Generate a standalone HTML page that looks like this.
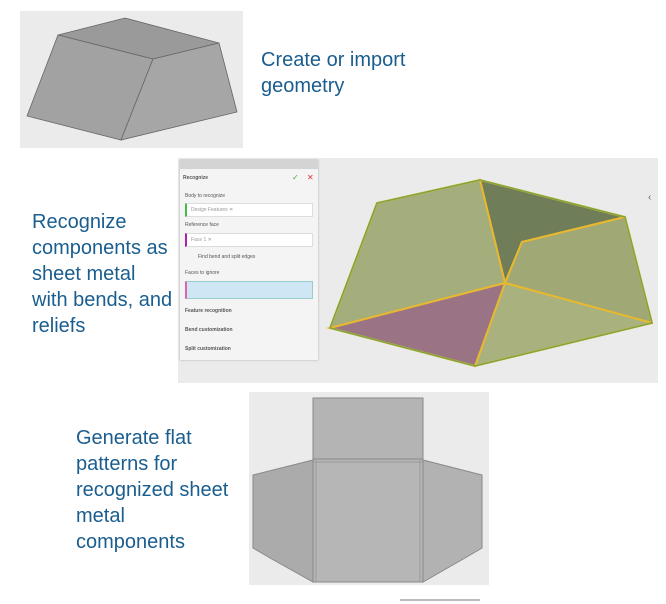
<!DOCTYPE html>
<html><head><style>
body{margin:0;width:666px;height:604px;background:#fff;position:relative;overflow:hidden;font-family:"Liberation Sans",sans-serif}
.t{position:absolute;color:#1a5d8f;font-size:20px;line-height:26px}
.p{position:absolute;font-size:5px;color:#555}
</style></head><body>
<svg width="666" height="604" style="position:absolute;left:0;top:0">
<rect x="20" y="11" width="223" height="137" fill="#ebebeb"/>
<polygon points="58,35 125,18 219,43 153,59" fill="#9a9a9a" stroke="#666" stroke-width=".8"/>
<polygon points="58,35 153,59 121,140 27,116" fill="#a2a2a2" stroke="#666" stroke-width=".8"/>
<polygon points="153,59 219,43 237,112 121,140" fill="#a6a6a6" stroke="#666" stroke-width=".8"/>
<rect x="178" y="158" width="480" height="225" fill="#ebebeb"/>
<polygon points="480,180 625,217 522,242 505,283" fill="#6f7d58" stroke="#e8b830" stroke-width="2"/>
<polygon points="377,203 480,180 505,283 330,328" fill="#a4ad7c" stroke="#e8b830" stroke-width="2"/>
<polygon points="522,242 625,217 652,323 505,283" fill="#a0a875" stroke="#e8b830" stroke-width="2"/>
<polygon points="505,283 652,323 475,366" fill="#a9b27f" stroke="#e8b830" stroke-width="2"/>
<polygon points="330,328 505,283 475,366" fill="#9a7384" stroke="#e8b830" stroke-width="2"/>
<polyline points="330,328 377,203 480,180 625,217 652,323 475,366 330,328" fill="none" stroke="#7da640" stroke-width="1.5"/>
<text x="648" y="200" font-size="10" fill="#666">‹</text>
<rect x="249" y="392" width="240" height="193" fill="#ebebeb"/>
<rect x="313" y="398" width="110" height="61" fill="#b4b4b4" stroke="#888"/>
<polygon points="313,460 253,475 253,548 270,558 313,582" fill="#ababab" stroke="#888"/>
<polygon points="423,460 482,475 482,548 465,558 423,582" fill="#b2b2b2" stroke="#888"/>
<rect x="313" y="459" width="110" height="123" fill="#b6b6b6" stroke="#888"/>
<line x1="316" y1="460" x2="316" y2="582" stroke="#999"/><line x1="420" y1="460" x2="420" y2="582" stroke="#999"/>
<line x1="313" y1="462" x2="423" y2="462" stroke="#999"/>
<line x1="400" y1="600" x2="480" y2="600" stroke="#777"/>
</svg>
<div style="position:absolute;left:180px;top:160px;width:138px;height:200px;background:#f4f4f4;box-shadow:0 0 2px #aaa">
<div style="height:9px;background:#d4d4d4"></div>
<div class="p" style="left:3px;top:15px;font-weight:bold">Recognize</div>
<div class="p" style="left:112px;top:13px;color:#4a4;font-size:8px">✓</div>
<div class="p" style="left:127px;top:13px;color:#d33;font-size:8px">✕</div>
<div class="p" style="left:5px;top:33px">Body to recognize</div>
<div style="position:absolute;left:5px;top:43px;width:125px;height:12px;background:#fff;border:1px solid #ddd;border-left:2px solid #4b4"><span class="p" style="left:4px;top:3px;color:#999">Design Features ✕</span></div>
<div class="p" style="left:5px;top:62px">Reference face</div>
<div style="position:absolute;left:5px;top:73px;width:125px;height:12px;background:#fff;border:1px solid #ddd;border-left:2px solid #a2a"><span class="p" style="left:4px;top:3px;color:#999">Face 1 ✕</span></div>
<div class="p" style="left:18px;top:94px">Find bend and split edges</div>
<div class="p" style="left:5px;top:110px">Faces to ignore</div>
<div style="position:absolute;left:5px;top:121px;width:125px;height:16px;background:#cfe6f4;border:1px solid #9cc;border-left:2px solid #d6a"></div>
<div class="p" style="left:5px;top:148px;font-weight:bold">Feature recognition</div>
<div class="p" style="left:5px;top:167px;font-weight:bold">Bend customization</div>
<div class="p" style="left:5px;top:186px;font-weight:bold">Split customization</div>
</div>
<div class="t" style="left:261px;top:47px">Create or import<br>geometry</div>
<div class="t" style="left:32px;top:209px">Recognize<br>components as<br>sheet metal<br>with bends, and<br>reliefs</div>
<div class="t" style="left:76px;top:425px">Generate flat<br>patterns for<br>recognized sheet<br>metal<br>components</div>
</body></html>
